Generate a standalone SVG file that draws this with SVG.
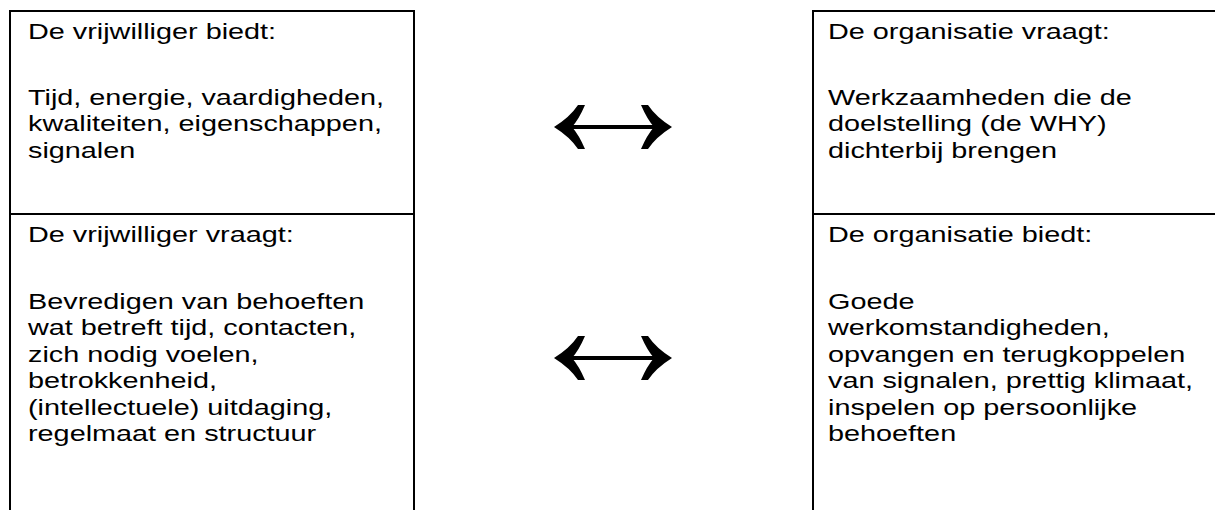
<svg xmlns="http://www.w3.org/2000/svg" width="1215" height="510" viewBox="0 0 1215 510">
<style>
.b{fill:none;stroke:#000;stroke-width:2}
.t{font-family:"Liberation Sans",Arial,sans-serif;font-size:22px;fill:#000}
.ah{fill:#000}
.sh{stroke:#000;stroke-width:4;fill:none}
</style>
<rect width="1215" height="510" fill="#fff"/>
<g id="vrijwilliger-biedt">
<path class="b" d="M10,511 V11 H414 V214"/>
<g transform="translate(28,0) scale(1.31,1)">
<text class="t" x="0" y="39">De vrijwilliger biedt:</text>
<text class="t" x="0" y="105">Tijd, energie, vaardigheden,</text>
<text class="t" x="0" y="131.5">kwaliteiten, eigenschappen,</text>
<text class="t" x="0" y="158">signalen</text>
</g>
</g>
<g id="vrijwilliger-vraagt">
<path class="b" d="M10,214 H414 V511"/>
<g transform="translate(28,0) scale(1.31,1)">
<text class="t" x="0" y="242">De vrijwilliger vraagt:</text>
<text class="t" x="0" y="309">Bevredigen van behoeften</text>
<text class="t" x="0" y="335.5">wat betreft tijd, contacten,</text>
<text class="t" x="0" y="362">zich nodig voelen,</text>
<text class="t" x="0" y="388.5">betrokkenheid,</text>
<text class="t" x="0" y="415">(intellectuele) uitdaging,</text>
<text class="t" x="0" y="441.5">regelmaat en structuur</text>
</g>
</g>
<g id="organisatie-vraagt">
<path class="b" d="M813,511 V11 H1216"/>
<g transform="translate(828,0) scale(1.31,1)">
<text class="t" x="0" y="39">De organisatie vraagt:</text>
<text class="t" x="0" y="105">Werkzaamheden die de</text>
<text class="t" x="0" y="131.5">doelstelling (de WHY)</text>
<text class="t" x="0" y="158">dichterbij brengen</text>
</g>
</g>
<g id="organisatie-biedt">
<path class="b" d="M813,214 H1216"/>
<g transform="translate(828,0) scale(1.31,1)">
<text class="t" x="0" y="242">De organisatie biedt:</text>
<text class="t" x="0" y="309">Goede</text>
<text class="t" x="0" y="335.5">werkomstandigheden,</text>
<text class="t" x="0" y="362">opvangen en terugkoppelen</text>
<text class="t" x="0" y="388.5">van signalen, prettig klimaat,</text>
<text class="t" x="0" y="415">inspelen op persoonlijke</text>
<text class="t" x="0" y="441.5">behoeften</text>
</g>
</g>
<defs>
<path id="arw" d="M0,0 Q16,-10 24,-22 L31,-22 Q25,-8 18,0 Q25,8 31,22 L24,22 Q16,10 0,0 Z M118,0 Q102,-10 94,-22 L87,-22 Q93,-8 100,0 Q93,8 87,22 L94,22 Q102,10 118,0 Z"/>
</defs>
<g id="connectors">
<g transform="translate(554,127)"><line class="sh" x1="10" y1="0" x2="108" y2="0"/><use href="#arw" class="ah"/></g>
<g transform="translate(554,358)"><line class="sh" x1="10" y1="0" x2="108" y2="0"/><use href="#arw" class="ah"/></g>
</g>
</svg>
